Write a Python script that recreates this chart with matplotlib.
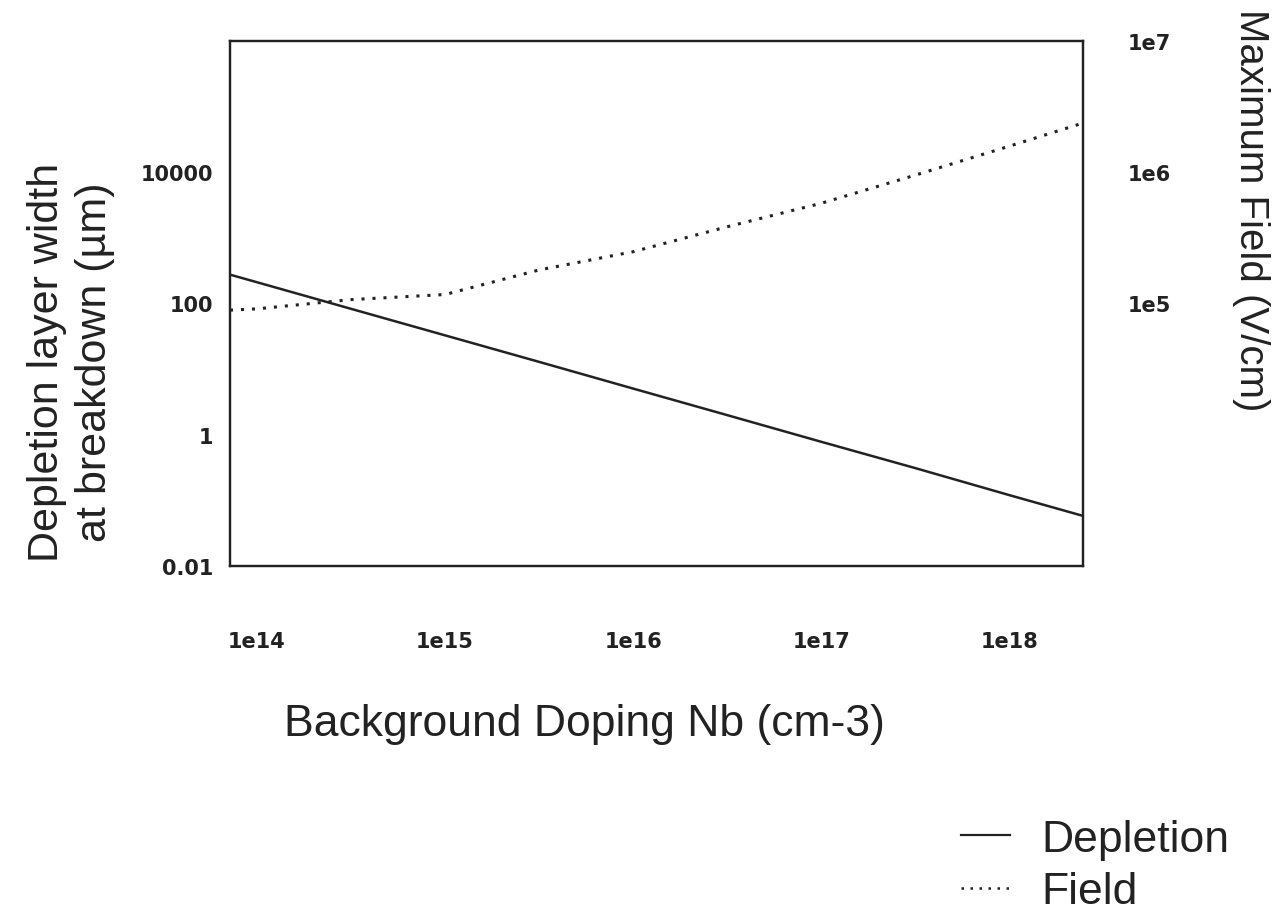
import matplotlib
matplotlib.use("Agg")
import matplotlib.pyplot as plt
from matplotlib.lines import Line2D

plt.rcParams['font.family'] = ['Liberation Sans', 'DejaVu Sans']

# background doping (cm-3)
doping = [7.2e13, 1e14, 3.16e14, 1e15, 3.16e15, 1e16, 3.16e16, 1e17, 3.16e17, 1e18, 2.46e18]
# depletion layer width at breakdown (um)
depletion = [275, 211, 83, 32.7, 12.9, 5.05, 1.99, 0.78, 0.31, 0.12, 0.058]
# maximum field (V/cm)
field = [8.9e4, 9.1e4, 1.07e5, 1.17e5, 1.8e5, 2.48e5, 3.84e5, 5.8e5, 9.5e5, 1.58e6, 2.37e6]

x_ticks = [1e14, 1e15, 1e16, 1e17, 1e18]
x_labels = ['1e14', '1e15', '1e16', '1e17', '1e18']
left_ticks = [0.01, 1, 100, 10000]
left_labels = ['0.01', '1', '100', '10000']
right_ticks = [1e5, 1e6, 1e7]
right_labels = ['1e5', '1e6', '1e7']

ink = '#222222'
dots = (0, (1.0, 2.6))

fig = plt.figure(figsize=(12.82, 9.2), dpi=100)
ax = fig.add_axes([0.1794, 0.3837, 0.6654, 0.5707])
ax2 = ax.twinx()

ax.plot(doping, depletion, color=ink, lw=1.8, ls='-')
ax2.plot(doping, field, color=ink, lw=2.2, ls=dots)

ax.set_xscale('log')
ax.set_yscale('log')
ax2.set_yscale('log')
ax.set_xlim(doping[0], doping[-1])
ax.set_ylim(0.01, 1e6)
ax2.set_ylim(1e3, 1e7)

ax.set_xticks(x_ticks)
ax.set_xticklabels(x_labels)
ax.set_yticks(left_ticks)
ax.set_yticklabels(left_labels)
ax2.set_yticks(right_ticks)
ax2.set_yticklabels(right_labels)
ax.xaxis.set_minor_locator(matplotlib.ticker.NullLocator())
ax.yaxis.set_minor_locator(matplotlib.ticker.NullLocator())
ax2.yaxis.set_minor_locator(matplotlib.ticker.NullLocator())

ax.tick_params(axis='x', length=0, pad=47)
ax.tick_params(axis='y', length=0, pad=12)
ax2.tick_params(axis='y', length=0, pad=32)
for lab in ax.get_xticklabels() + ax.get_yticklabels() + ax2.get_yticklabels():
    lab.set(fontsize=15, fontweight='bold', color=ink, family='DejaVu Sans')

for a in (ax, ax2):
    for sp in a.spines.values():
        sp.set_linewidth(1.6)
        sp.set_color(ink)

ax.set_xlabel('Background Doping Nb (cm-3)', fontsize=32, color=ink)
ax.xaxis.set_label_coords(0.416, -0.26)
ax.set_ylabel('Depletion layer width\nat breakdown (µm)', fontsize=31,
              color=ink, linespacing=1.25)
ax.yaxis.set_label_coords(-0.135, 0.39)
ax2.set_ylabel('Maximum Field (V/cm)', fontsize=29, color=ink,
               rotation=-90, va='bottom')
ax2.yaxis.set_label_coords(1.175, 0.68)

handles = [Line2D([], [], color=ink, lw=1.6, ls='-'),
           Line2D([], [], color=ink, lw=1.8, ls=dots)]
fig.legend(handles, ['Depletion', 'Field'], loc='lower right',
           bbox_to_anchor=(0.99, -0.036), frameon=False, fontsize=32,
           handlelength=1.1, handletextpad=0.7, labelspacing=0.25,
           labelcolor=ink)

fig.savefig('out.png', dpi=100)
